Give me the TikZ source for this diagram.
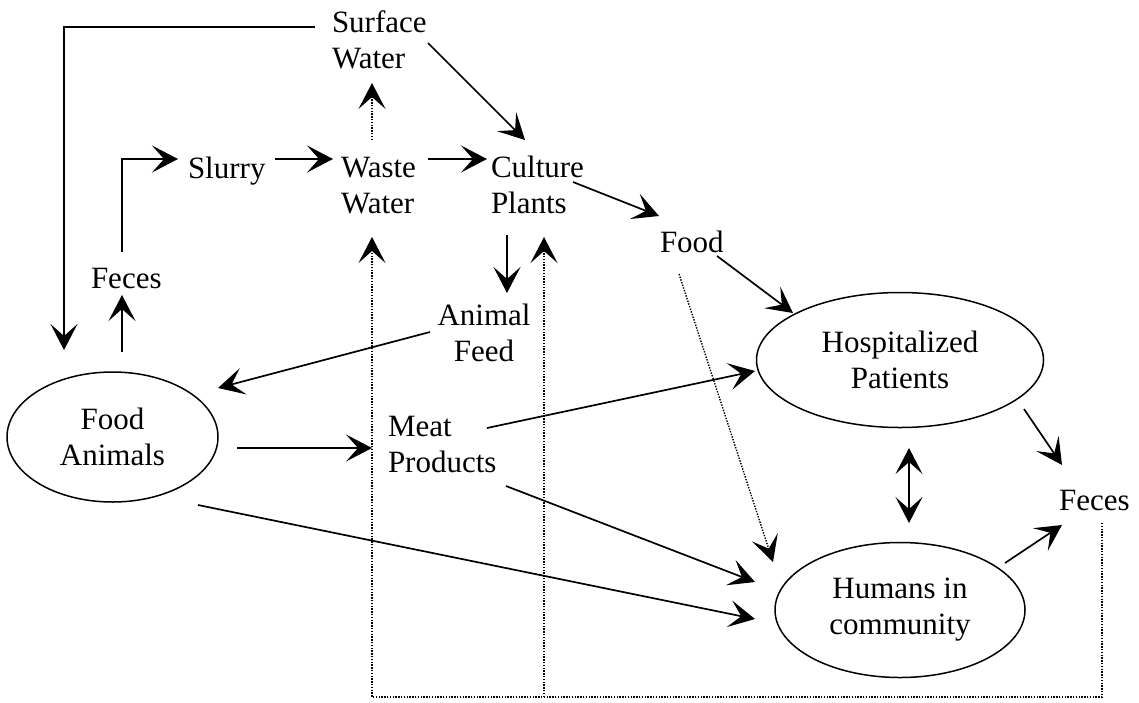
\documentclass[tikz,border=0pt]{standalone}
\usepackage{fontspec}
\setmainfont{Liberation Serif}
\usetikzlibrary{shapes.geometric,arrows.meta,calc}
\newcommand\tlines[1]{\begin{tabular}[t]{@{}l@{}}#1\end{tabular}}
\newcommand\clines[1]{\begin{tabular}[t]{@{}c@{}}#1\end{tabular}}
\begin{document}
\begin{tikzpicture}[x=1pt,y=-1pt,
  lbl/.style={inner sep=0pt,outer sep=0pt,font=\fontsize{31}{36}\selectfont},
  oval/.style={ellipse,draw,line width=1.5pt,inner sep=0pt,align=center,font=\fontsize{31}{36}\selectfont},
  tip/.tip={Stealth[length=26pt,width=27pt,inset=12pt]},
  arr/.style={line width=1.7pt,-tip},
  arrboth/.style={line width=1.7pt,tip-tip},
  dots/.style={line width=1.4pt,dash pattern=on 1.4pt off 1.4pt},
]
\fill[white] (0,0) rectangle (1139,702);
\useasboundingbox (0,0) rectangle (1139,702);

% text nodes
\node[lbl,anchor=base west] (surface) at (332,32) {\tlines{Surface\\Water}};
\node[lbl,anchor=base west] (slurry) at (188,178) {Slurry};
\node[lbl,anchor=base west] (waste) at (341,177) {\tlines{Waste\\Water}};
\node[lbl,anchor=base west] (culture) at (491,177) {\tlines{Culture\\Plants}};
\node[lbl,anchor=base west] (food) at (660,252) {Food};
\node[lbl,anchor=base west] (fecesA) at (91,288) {Feces};
\node[lbl,anchor=base] (feed) at (484,325) {\clines{Animal\\Feed}};
\node[lbl,anchor=base west] (meat) at (388,436) {\tlines{Meat\\Products}};
\node[lbl,anchor=base west] (fecesB) at (1059,510) {Feces};

% ellipses
\node[oval,minimum width=211pt,minimum height=130pt] (fanimals) at (112.5,437) {Food\\Animals};
\node[oval,minimum width=287pt,minimum height=135pt] (hosp) at (900,360) {Hospitalized\\Patients};
\node[oval,minimum width=250pt,minimum height=135pt] (humans) at (900,610) {Humans in\\community};

% solid connectors
\draw[arr] ($(surface.base west)+(-17,-5)$) -| ($(fanimals.center)+(-48.5,-87)$);
\draw[arr] ($(fecesA.base west)+(31,-36)$) |- ($(slurry.base west)+(-10,-19)$);
\draw[arr] ($(fanimals.center)+(9.5,-85)$) -- ($(fecesA.base west)+(31,7)$);
\draw[arr] ($(slurry.base west)+(87,-19)$) -- ($(waste.base west)+(-8,-18)$);
\draw[arr] ($(waste.base west)+(87,-18)$) -- ($(culture.base west)+(-4,-18)$);
\draw[arr] ($(surface.base west)+(96,11)$) -- ($(culture.base west)+(34,-37)$);
\draw[arr] ($(culture.base west)+(82,5)$) -- ($(food.base west)+(-1,-36)$);
\draw[arr] ($(culture.base west)+(16,58)$) -- ($(feed.base)+(23,-32)$);
\draw[arr] ($(food.base west)+(57,4)$) -- ($(hosp.center)+(-107,-47)$);
\draw[arr] ($(feed.base)+(-54,7)$) -- ($(fanimals.center)+(105.5,-49)$);
\draw[arr] ($(fanimals.center)+(124.5,11)$) -- ($(meat.base west)+(-16,12)$);
\draw[arr] ($(meat.base west)+(99,-8)$) -- ($(hosp.center)+(-145,11)$);
\draw[arr] ($(meat.base west)+(118,50)$) -- ($(humans.center)+(-145,-28)$);
\draw[arr] ($(fanimals.center)+(85.5,68)$) -- ($(humans.center)+(-145,9)$);
\draw[arrboth] ($(hosp.center)+(9,88)$) -- ($(humans.center)+(9,-87)$);
\draw[arr] ($(hosp.center)+(124,49)$) -- ($(fecesB.base west)+(3,-45)$);
\draw[arr] ($(humans.center)+(105,-47)$) -- ($(fecesB.base west)+(3,15)$);

% dotted connectors
\draw[arr,dots] ($(waste.base west)+(31,-37)$) -- ($(surface.base west)+(40,51)$);
\draw[arr,dots] ($(food.base west)+(19,22)$) -- ($(humans.center)+(-127,-48)$);
\draw[arr,dots] ($(fecesB.base west)+(43,13)$) -- ++(0,174) -| ($(waste.base west)+(31,60)$);
\coordinate (split) at ($(culture.base west)+(53,520)$);
\draw[arr,dots] (split) -- ($(culture.base west)+(53,60)$);
\end{tikzpicture}
\end{document}
